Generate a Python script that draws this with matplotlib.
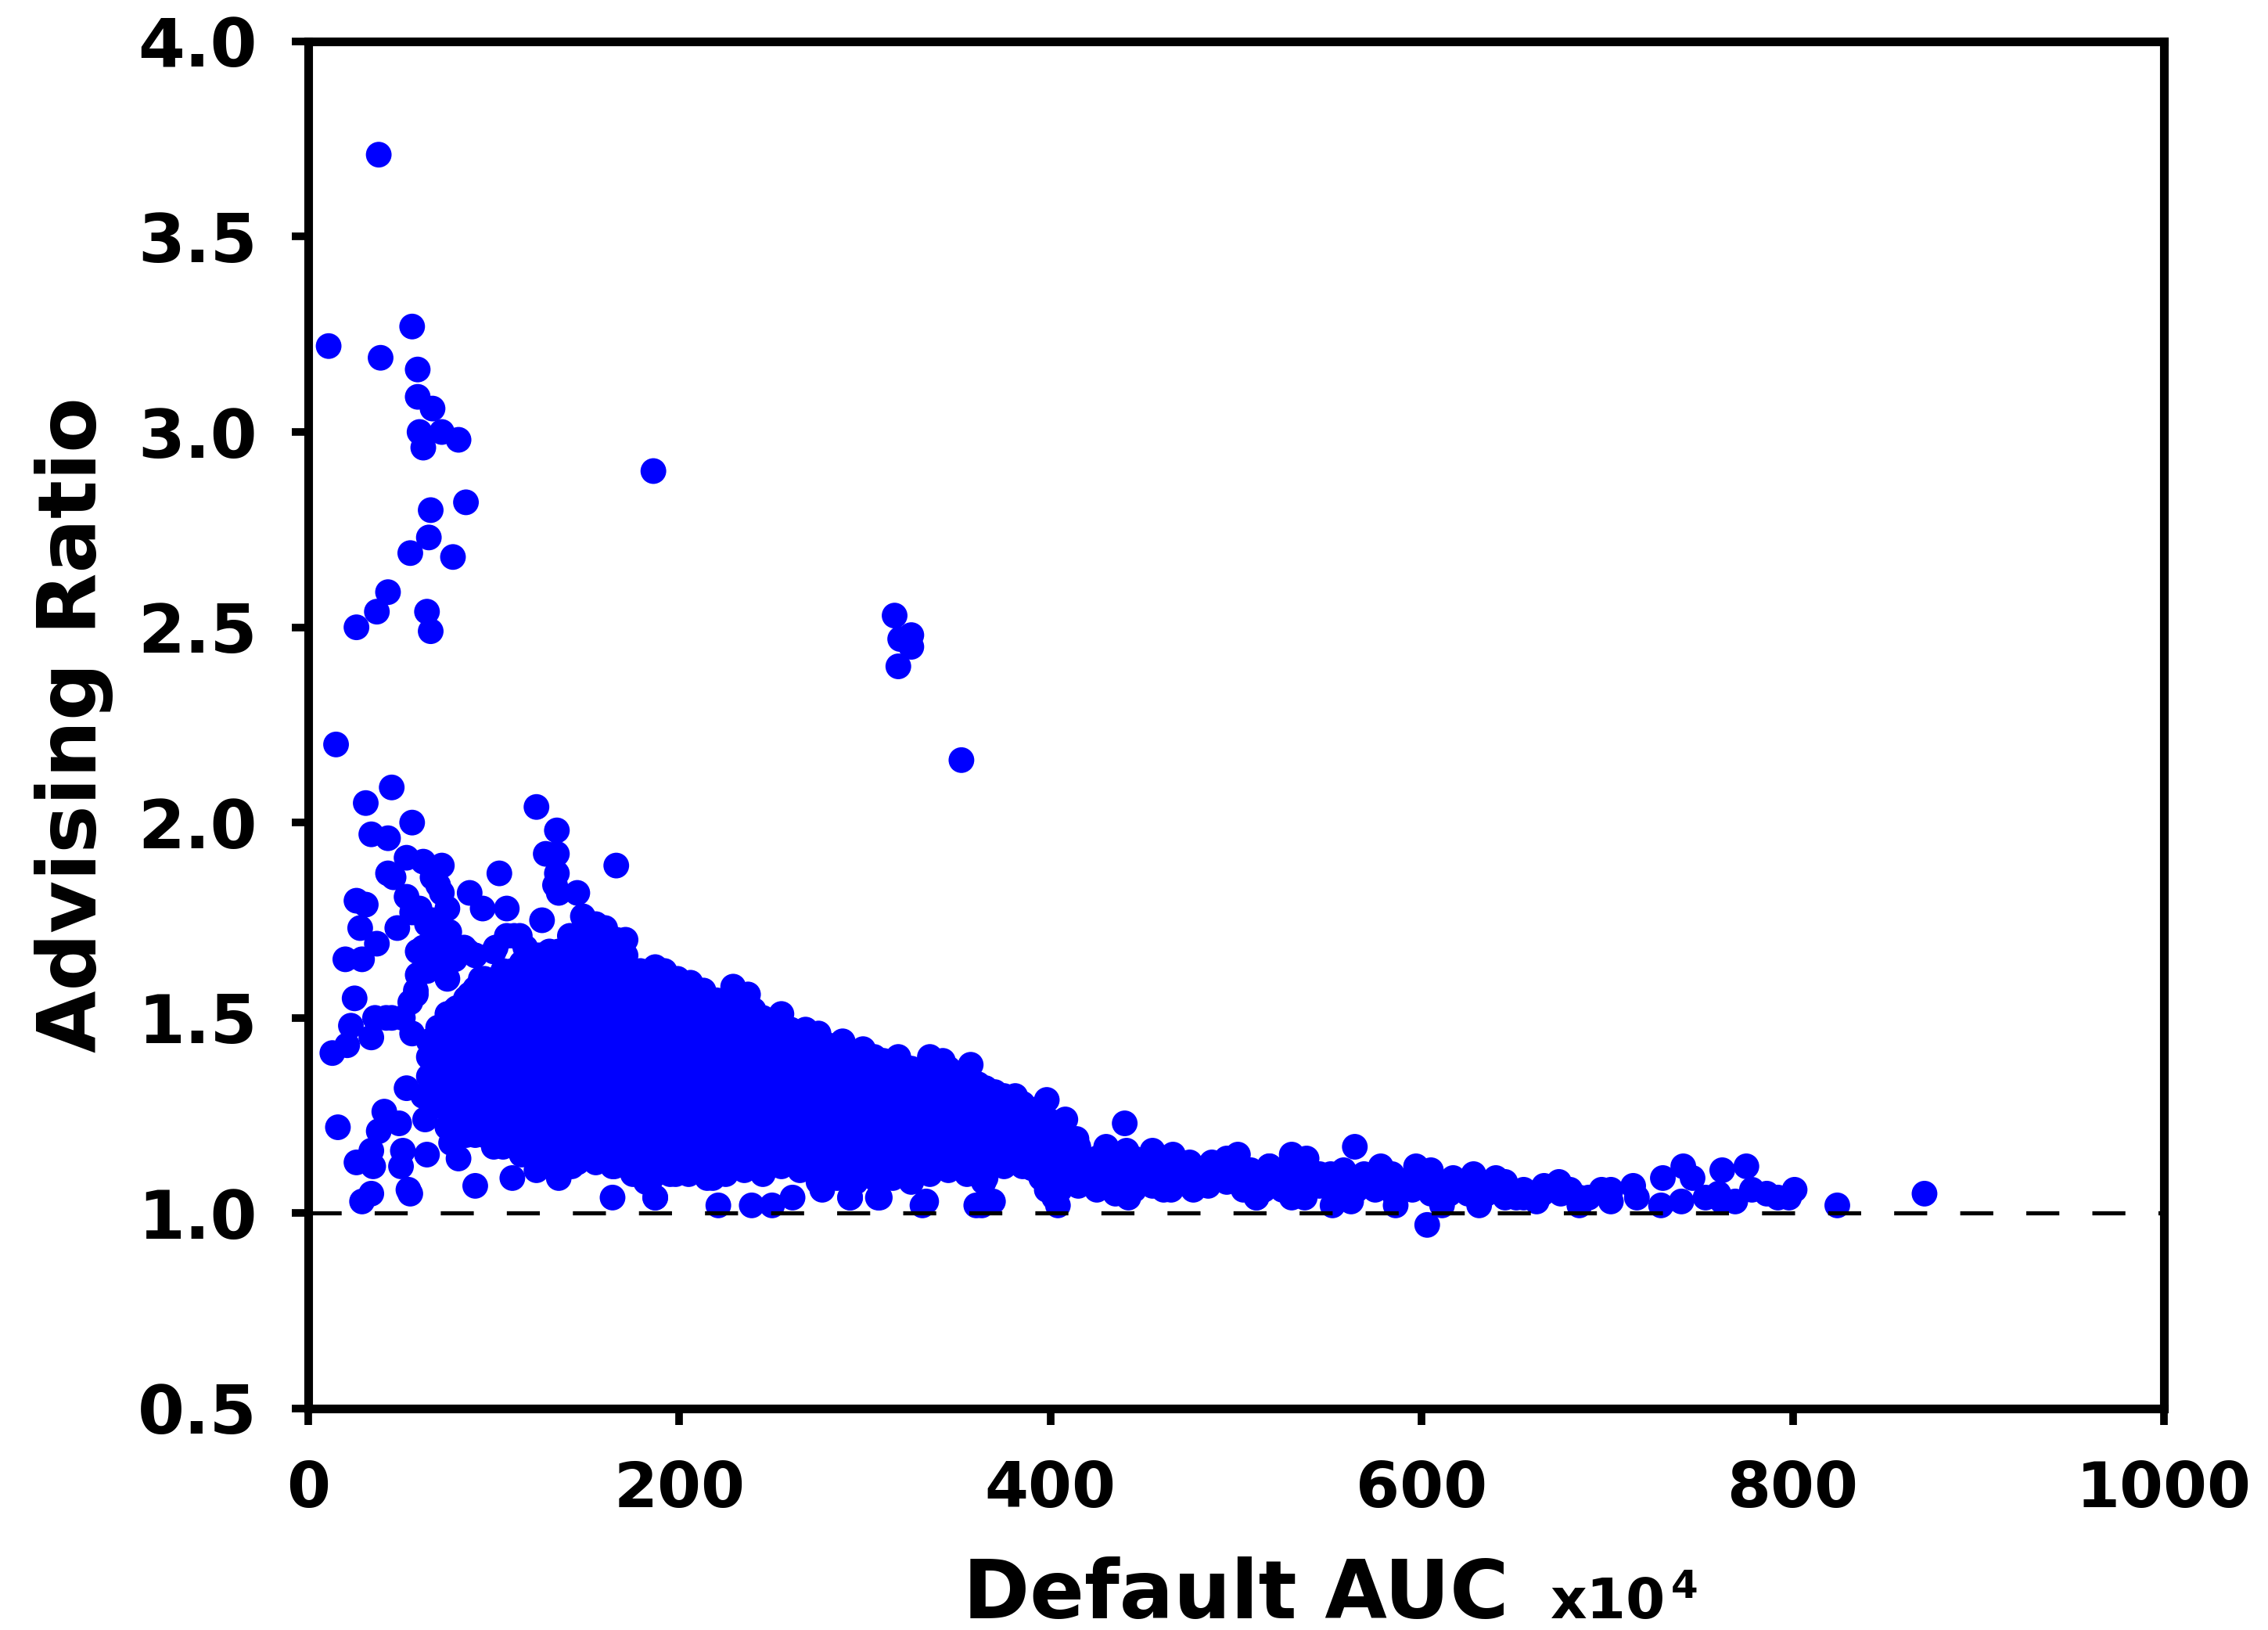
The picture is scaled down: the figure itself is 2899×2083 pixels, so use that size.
import matplotlib.pyplot as plt

plt.rcParams['font.family'] = ['DejaVu Sans']
plt.rcParams['font.weight'] = 'bold'

# high outliers (upper left and the group near 320)
hi_auc = [38, 11, 56, 39, 59, 59, 67, 60, 72, 81, 62, 186, 85, 66, 65, 55, 78, 43, 37, 64,
          26, 66, 316, 319, 325, 325, 318, 352]
hi_ratio = [3.71, 3.22, 3.27, 3.19, 3.16, 3.09, 3.06, 3.00, 3.00, 2.98, 2.96, 2.90, 2.82, 2.80,
            2.73, 2.69, 2.68, 2.59, 2.54, 2.54, 2.50, 2.49, 2.53, 2.47, 2.48, 2.45, 2.40, 2.16]

# scattered points left of the main cloud
left_auc = [15, 45, 31, 56, 34, 43, 123, 134, 128, 134, 166, 53, 62, 72, 43, 46, 103, 134, 133, 135,
            145, 87, 94, 107, 26, 31, 72, 75, 53, 28, 37, 48, 20, 29, 126, 148, 166, 114, 107, 86,
            75, 62, 59, 75, 100, 64, 25, 23, 13, 21, 34, 36, 45, 55, 58, 56, 72, 72, 79, 87,
            93, 105, 118, 134, 149,
            67, 70, 56, 60, 67, 69, 76, 59, 66, 73, 79, 84, 90, 101, 111, 117, 123, 140, 155, 166,
            149, 141, 155, 160, 64, 58, 51, 42,
            16, 53, 62, 41, 38, 49, 34, 26, 35, 51, 50, 64, 77, 81, 90, 110, 34, 29, 54, 55,
            123, 135, 142, 164, 164, 182, 187, 73, 69, 63, 100, 113, 123, 90, 146, 157, 177, 184, 115, 117]
left_ratio = [2.20, 2.09, 2.05, 2.00, 1.97, 1.96, 2.04, 1.98, 1.92, 1.92, 1.89, 1.91, 1.90, 1.89, 1.87,
              1.86, 1.87, 1.87, 1.84, 1.82, 1.82, 1.82, 1.78, 1.78, 1.80, 1.79, 1.82, 1.78, 1.81, 1.73,
              1.69, 1.73, 1.65, 1.65, 1.75, 1.76, 1.70, 1.71, 1.71, 1.67, 1.71, 1.68, 1.61, 1.60, 1.67,
              1.74, 1.55, 1.48, 1.41, 1.43, 1.45, 1.50, 1.50, 1.54, 1.56, 1.46, 1.47, 1.40, 1.52, 1.56,
              1.60, 1.60, 1.66, 1.66, 1.75,
              1.86, 1.84, 1.77, 1.78, 1.75, 1.73, 1.72, 1.67, 1.67, 1.65, 1.65, 1.68, 1.66, 1.68, 1.71,
              1.68, 1.66, 1.65, 1.70, 1.66, 1.72, 1.71, 1.74, 1.73, 1.62, 1.57, 1.50, 1.50,
              1.22, 1.32, 1.30, 1.26, 1.21, 1.23, 1.16, 1.13, 1.12, 1.16, 1.12, 1.15, 1.18, 1.14, 1.07,
              1.09, 1.05, 1.03, 1.06, 1.05, 1.11, 1.09, 1.12, 1.04, 1.12, 1.08, 1.04, 1.35, 1.39, 1.24,
              1.17, 1.17, 1.14, 1.20, 1.18, 1.16, 1.16, 1.17, 1.26, 1.29]

# main cloud, one column of ratios per auc value
core_auc = [65, 75, 85, 95, 105, 115, 125, 135, 145, 155, 165, 175, 185, 195, 205, 215, 225, 235,
            245, 255, 265, 275, 285, 295, 305, 315, 325, 335, 345, 355, 365, 375, 385, 395, 405]
core_ratio = [
    [1.30, 1.35, 1.40, 1.44],
    [1.22, 1.27, 1.32, 1.37, 1.42, 1.47, 1.51],
    [1.20, 1.25, 1.30, 1.35, 1.40, 1.45, 1.50, 1.55],
    [1.20, 1.25, 1.30, 1.35, 1.40, 1.45, 1.50, 1.55, 1.60],
    [1.17, 1.22, 1.27, 1.32, 1.37, 1.42, 1.47, 1.52, 1.57, 1.62],
    [1.15, 1.20, 1.25, 1.30, 1.35, 1.40, 1.45, 1.50, 1.55, 1.60, 1.64],
    [1.14, 1.19, 1.24, 1.29, 1.34, 1.39, 1.44, 1.49, 1.54, 1.59, 1.63, 1.66],
    [1.12, 1.17, 1.22, 1.27, 1.32, 1.37, 1.42, 1.47, 1.52, 1.57, 1.62, 1.67],
    [1.13, 1.18, 1.23, 1.28, 1.33, 1.38, 1.43, 1.48, 1.53, 1.58, 1.63, 1.68],
    [1.13, 1.18, 1.23, 1.28, 1.33, 1.38, 1.43, 1.48, 1.53, 1.58, 1.63, 1.67],
    [1.12, 1.17, 1.22, 1.27, 1.32, 1.37, 1.42, 1.47, 1.52, 1.57, 1.62, 1.65],
    [1.10, 1.15, 1.20, 1.25, 1.30, 1.35, 1.40, 1.45, 1.50, 1.55, 1.60],
    [1.09, 1.14, 1.19, 1.24, 1.29, 1.34, 1.39, 1.44, 1.49, 1.54, 1.59],
    [1.10, 1.15, 1.20, 1.25, 1.30, 1.35, 1.40, 1.45, 1.50, 1.55, 1.58],
    [1.10, 1.15, 1.20, 1.25, 1.30, 1.35, 1.40, 1.45, 1.50, 1.56],
    [1.09, 1.14, 1.19, 1.24, 1.29, 1.34, 1.39, 1.44, 1.49, 1.55],
    [1.10, 1.15, 1.20, 1.25, 1.30, 1.35, 1.40, 1.45, 1.50, 1.54],
    [1.11, 1.16, 1.21, 1.26, 1.31, 1.36, 1.41, 1.46, 1.50, 1.53],
    [1.10, 1.15, 1.20, 1.25, 1.30, 1.35, 1.40, 1.45, 1.50],
    [1.12, 1.17, 1.22, 1.27, 1.32, 1.37, 1.42, 1.47, 1.49],
    [1.11, 1.16, 1.21, 1.26, 1.31, 1.36, 1.41, 1.45],
    [1.08, 1.13, 1.18, 1.23, 1.28, 1.33, 1.38, 1.43],
    [1.09, 1.14, 1.19, 1.24, 1.29, 1.34, 1.38, 1.42],
    [1.08, 1.13, 1.18, 1.23, 1.28, 1.33, 1.37, 1.40],
    [1.09, 1.14, 1.19, 1.24, 1.29, 1.34, 1.38, 1.40],
    [1.09, 1.14, 1.19, 1.24, 1.29, 1.33, 1.38],
    [1.09, 1.13, 1.18, 1.23, 1.28, 1.33, 1.37],
    [1.10, 1.15, 1.20, 1.25, 1.30, 1.34, 1.38],
    [1.11, 1.16, 1.21, 1.26, 1.31, 1.35, 1.37],
    [1.10, 1.15, 1.20, 1.25, 1.30, 1.34],
    [1.09, 1.14, 1.19, 1.24, 1.29, 1.32],
    [1.12, 1.17, 1.22, 1.26, 1.30],
    [1.12, 1.16, 1.21, 1.26, 1.28],
    [1.09, 1.13, 1.18, 1.23, 1.27],
    [1.06, 1.10, 1.15, 1.20, 1.23],
]

# second, staggered set of columns inside the cloud
core2_auc = [70, 80, 90, 100, 110, 120, 130, 140, 150, 160, 170, 180, 190, 200, 210, 220, 230, 240,
             250, 260, 270, 280, 290, 300, 310, 320, 330, 340, 350, 360, 370, 380, 390, 400]
core2_ratio = [
    [1.275, 1.325, 1.375, 1.425, 1.475],
    [1.225, 1.275, 1.325, 1.375, 1.425, 1.475, 1.525],
    [1.225, 1.275, 1.325, 1.375, 1.425, 1.475, 1.525, 1.575],
    [1.195, 1.245, 1.295, 1.345, 1.395, 1.445, 1.495, 1.545, 1.595],
    [1.175, 1.225, 1.275, 1.325, 1.375, 1.425, 1.475, 1.525, 1.575, 1.62],
    [1.165, 1.215, 1.265, 1.315, 1.365, 1.415, 1.465, 1.515, 1.565, 1.615, 1.645],
    [1.145, 1.195, 1.245, 1.295, 1.345, 1.395, 1.445, 1.495, 1.545, 1.595, 1.645, 1.67],
    [1.145, 1.195, 1.245, 1.295, 1.345, 1.395, 1.445, 1.495, 1.545, 1.595, 1.645, 1.68],
    [1.155, 1.205, 1.255, 1.305, 1.355, 1.405, 1.455, 1.505, 1.555, 1.605, 1.655, 1.68],
    [1.145, 1.195, 1.245, 1.295, 1.345, 1.395, 1.445, 1.495, 1.545, 1.595, 1.645],
    [1.135, 1.185, 1.235, 1.285, 1.335, 1.385, 1.435, 1.485, 1.535, 1.585, 1.635],
    [1.115, 1.165, 1.215, 1.265, 1.315, 1.365, 1.415, 1.465, 1.515, 1.565, 1.60],
    [1.115, 1.165, 1.215, 1.265, 1.315, 1.365, 1.415, 1.465, 1.515, 1.565, 1.59],
    [1.125, 1.175, 1.225, 1.275, 1.325, 1.375, 1.425, 1.475, 1.525, 1.57],
    [1.115, 1.165, 1.215, 1.265, 1.315, 1.365, 1.415, 1.465, 1.515, 1.56],
    [1.115, 1.165, 1.215, 1.265, 1.315, 1.365, 1.415, 1.465, 1.515, 1.545],
    [1.125, 1.175, 1.225, 1.275, 1.325, 1.375, 1.425, 1.475, 1.53],
    [1.125, 1.175, 1.225, 1.275, 1.325, 1.375, 1.425, 1.475, 1.51],
    [1.135, 1.185, 1.235, 1.285, 1.335, 1.385, 1.435, 1.485],
    [1.135, 1.185, 1.235, 1.285, 1.335, 1.385, 1.435, 1.47],
    [1.115, 1.165, 1.215, 1.265, 1.315, 1.365, 1.415, 1.45],
    [1.105, 1.155, 1.205, 1.255, 1.305, 1.355, 1.405, 1.43],
    [1.105, 1.155, 1.205, 1.255, 1.305, 1.355, 1.41],
    [1.105, 1.155, 1.205, 1.255, 1.305, 1.355, 1.40],
    [1.115, 1.165, 1.215, 1.265, 1.315, 1.365, 1.39],
    [1.115, 1.165, 1.215, 1.265, 1.315, 1.365, 1.38],
    [1.115, 1.165, 1.215, 1.265, 1.315, 1.365],
    [1.125, 1.175, 1.225, 1.275, 1.325, 1.37],
    [1.125, 1.175, 1.225, 1.275, 1.325, 1.355],
    [1.115, 1.165, 1.215, 1.265, 1.315, 1.33],
    [1.125, 1.175, 1.225, 1.275, 1.31],
    [1.135, 1.185, 1.235, 1.285],
    [1.115, 1.165, 1.215, 1.265],
    [1.085, 1.135, 1.185, 1.235],
]

# points along the edges of the cloud
edge_auc = [171, 171, 179, 187, 192, 199, 206, 213, 229, 237, 240, 255, 268, 275, 288, 299, 318, 335, 342, 357,
            178, 184, 183, 187, 198, 197, 218, 221, 239, 250, 261, 245, 230, 277, 292, 308, 325, 331, 350, 360,
            288, 305, 261,
            361, 381, 398, 408, 414, 440, 430, 441, 455, 466, 487, 495, 501, 518, 530,
            364, 369, 363, 385, 398, 402, 404, 398, 425, 442, 438, 461, 477, 455, 489, 504, 511, 517, 367, 333,
            292, 307]
edge_ratio = [1.70, 1.66, 1.62, 1.63, 1.62, 1.60, 1.59, 1.57, 1.58, 1.56, 1.52, 1.51, 1.47, 1.46, 1.44,
              1.42, 1.40, 1.40, 1.39, 1.38,
              1.16, 1.16, 1.08, 1.04, 1.10, 1.14, 1.09, 1.02, 1.02, 1.02, 1.04, 1.11, 1.13, 1.06, 1.04,
              1.04, 1.08, 1.02, 1.12, 1.02, 1.10, 1.10, 1.14,
              1.33, 1.30, 1.29, 1.24, 1.19, 1.23, 1.17, 1.16, 1.16, 1.15, 1.13, 1.14, 1.15, 1.12, 1.15,
              1.08, 1.03, 1.02, 1.15, 1.06, 1.04, 1.02, 1.08, 1.08, 1.04, 1.07, 1.06, 1.06, 1.08, 1.09,
              1.06, 1.04, 1.08, 1.03, 1.03, 1.04, 1.04]

# thin band at large AUC
tail_auc = [415, 425, 435, 445, 455, 465, 475, 485, 495, 505, 515, 525, 535, 545, 555, 565, 575, 585,
            595, 605, 615, 625, 635, 645, 655, 665, 675, 685]
tail_ratio = [[1.07, 1.12, 1.17], [1.06, 1.10, 1.14], [1.05, 1.09, 1.13], [1.06, 1.10, 1.14],
              [1.07, 1.11, 1.14], [1.06, 1.10, 1.13], [1.07, 1.10, 1.13], [1.07, 1.10, 1.12],
              [1.08, 1.11], [1.07, 1.10], [1.06, 1.09], [1.06, 1.10], [1.06, 1.09], [1.07, 1.10],
              [1.06, 1.08], [1.06, 1.09], [1.06, 1.09], [1.05, 1.08], [1.06, 1.09], [1.05, 1.08],
              [1.05, 1.07], [1.05, 1.08], [1.05, 1.07], [1.04, 1.06], [1.04, 1.06], [1.05], [1.05], [1.04]]

far_auc = [508, 511, 518, 530, 538, 530, 537, 564, 551, 552, 558, 562, 569, 578, 584, 586, 597, 605, 603, 611,
           617, 628, 631, 640, 645, 651, 662, 666, 674, 680, 685, 690, 697,
           702, 702, 714, 716, 729, 730, 741, 746, 740, 753, 760, 762, 762, 769, 775, 778, 786, 792, 798, 801,
           824, 871]
far_ratio = [1.11, 1.04, 1.12, 1.14, 1.14, 1.04, 1.04, 1.17, 1.10, 1.02, 1.11, 1.03, 1.10, 1.12, 1.10, 1.02,
             1.12, 1.11, 0.97, 1.02, 1.09, 1.10, 1.02, 1.09, 1.08, 1.04, 1.03, 1.07, 1.08, 1.06, 1.02, 1.04, 1.06,
             1.06, 1.03, 1.07, 1.04, 1.02, 1.09, 1.12, 1.09, 1.03, 1.04, 1.05, 1.11, 1.03, 1.03, 1.12, 1.06,
             1.05, 1.04, 1.04, 1.06, 1.02, 1.05]

xticks = [0, 200, 400, 600, 800, 1000]
yticks = [0.5, 1.0, 1.5, 2.0, 2.5, 3.0, 3.5, 4.0]


def unfold(cols, rows):
    xs, ys = [], []
    for x, col in zip(cols, rows):
        xs += [x] * len(col)
        ys += col
    return xs, ys


core_x, core_y = unfold(core_auc, core_ratio)
core2_x, core2_y = unfold(core2_auc, core2_ratio)
tail_x, tail_y = unfold(tail_auc, tail_ratio)
xs = hi_auc + left_auc + core_x + core2_x + edge_auc + tail_x + far_auc
ys = hi_ratio + left_ratio + core_y + core2_y + edge_ratio + tail_y + far_ratio

fig = plt.figure(figsize=(14.495, 10.415), dpi=200)
ax = fig.add_axes([0.1359, 0.1359, 0.8182, 0.8387])

ax.scatter(xs, ys, s=140, color='#0000ff', edgecolors='none', zorder=2)
ax.axhline(1.0, color='black', lw=1.9, ls=(0, (8, 8)), zorder=3)

ax.set_xlim(0, 1000)
ax.set_ylim(0.5, 4.0)
ax.set_xticks(xticks)
ax.set_yticks(yticks)
ax.set_yticklabels(['%.1f' % v for v in yticks])
ax.tick_params(width=3.5, length=7.5, labelsize=29, pad=16)
ax.tick_params(axis='y', labelsize=31)
for sp in ax.spines.values():
    sp.set_linewidth(4)

ax.set_xlabel('Default AUC', fontsize=37, fontweight='bold')
ax.xaxis.set_label_coords(0.5, -0.108)
ax.set_ylabel('Advising Ratio', fontsize=37, fontweight='bold')
ax.yaxis.set_label_coords(-0.105, 0.5)

fig.text(1982 / 2899, 1 - 2068 / 2083, 'x10', fontsize=26, fontweight='bold', ha='left', va='baseline')
fig.text(2136 / 2899, 1 - 2004 / 2083, '4', fontsize=18, fontweight='bold', ha='left', va='top')

fig.savefig('out.png', dpi=200)
